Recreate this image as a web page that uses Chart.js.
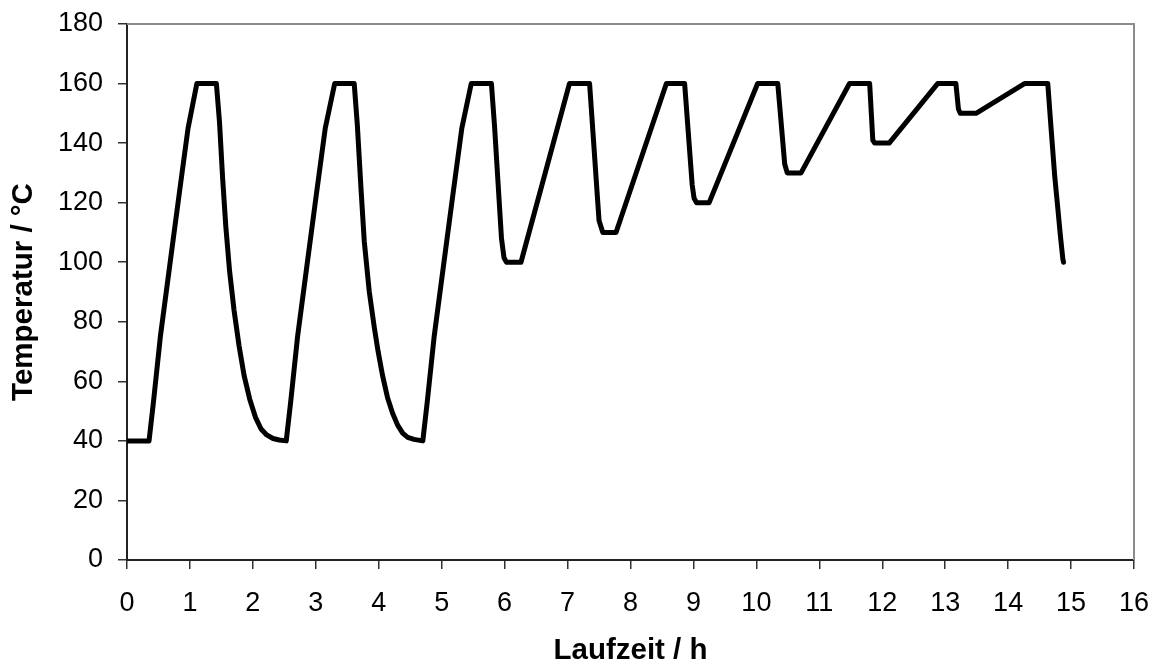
<!DOCTYPE html>
<html>
<head>
<meta charset="utf-8">
<script src="https://cdn.jsdelivr.net/npm/chart.js@4/dist/chart.umd.min.js"></script>
<style>
  html, body { margin: 0; padding: 0; background: #fff; }
  #wrap { width: 1162px; height: 666px; }
</style>
</head>
<body>
<div id="wrap"><canvas id="c" width="1162" height="666"></canvas></div>
<script>
// Oven temperature programme: run time (h) against temperature (°C)
const hours = [
  0, 0.35, 0.42, 0.53, 0.68, 0.83, 0.97, 1.11,
  1.42, 1.47, 1.52, 1.57, 1.63, 1.70, 1.78, 1.86, 1.95, 2.04, 2.13, 2.22, 2.32, 2.42, 2.53,
  2.60, 2.71, 2.86, 3.01, 3.15, 3.30,
  3.61, 3.66, 3.72, 3.77, 3.85, 3.93, 3.99, 4.06, 4.14, 4.22, 4.30, 4.38, 4.46, 4.56, 4.70,
  4.77, 4.88, 5.03, 5.18, 5.32, 5.47,
  5.79, 5.84, 5.95, 5.99, 6.03,
  6.26, 7.03, 7.35, 7.50, 7.56,
  7.77, 8.57, 8.86, 8.98, 9.01, 9.05,
  9.25, 10.02, 10.34, 10.45, 10.49,
  10.71, 11.48, 11.80, 11.85, 11.88,
  12.11, 12.88, 13.17, 13.21, 13.24,
  13.49, 14.26, 14.63, 14.68, 14.74, 14.79, 14.83, 14.87, 14.88
];
const temperature = [
  40, 40, 53, 75, 99, 123, 145, 160,
  160, 147, 128, 112, 97, 84, 72, 62, 54, 48, 44, 42, 40.8, 40.3, 40,
  53, 75, 99, 123, 145, 160,
  160, 146, 124, 107, 90, 78, 70, 62, 54.5, 49.3, 45.3, 42.6, 41.2, 40.5, 40,
  53, 75, 99, 123, 145, 160,
  160, 145.6, 108, 101.5, 100,
  100, 160, 160, 114, 110,
  110, 160, 160, 126, 121.5, 120,
  120, 160, 160, 133, 130,
  130, 160, 160, 141, 140,
  140, 160, 160, 151.5, 150,
  150, 160, 160, 145.6, 129, 118, 109, 101, 100
];

// Axis tick values
const xTickValues = [0, 1, 2, 3, 4, 5, 6, 7, 8, 9, 10, 11, 12, 13, 14, 15, 16];
const yTickValues = [0, 20, 40, 60, 80, 100, 120, 140, 160, 180];

const xTitle = 'Laufzeit / h';
const yTitle = 'Temperatur / °C';

const FONT = "'Liberation Sans', Arial, sans-serif";

// Grey frame on the top and right side of the plot area
const frame = {
  id: 'frame',
  beforeDatasetsDraw(chart) {
    const { ctx, chartArea: a } = chart;
    ctx.save();
    ctx.strokeStyle = '#8c8c8c';
    ctx.lineWidth = 2;
    ctx.beginPath();
    ctx.moveTo(a.left, a.top);
    ctx.lineTo(a.right, a.top);
    ctx.lineTo(a.right, a.bottom);
    ctx.stroke();
    ctx.restore();
  }
};

const titleFont = { family: FONT, size: 29.5, weight: 'bold', lineHeight: 1 };
const tickFont = { family: FONT, size: 27 };

new Chart(document.getElementById('c'), {
  type: 'scatter',
  data: {
    datasets: [{
      data: hours.map((h, i) => ({ x: h, y: temperature[i] })),
      showLine: true,
      borderColor: '#000',
      backgroundColor: '#000',
      borderWidth: 5,
      borderJoinStyle: 'round',
      borderCapStyle: 'round',
      pointRadius: 0,
      pointHoverRadius: 0,
      tension: 0,
      fill: false
    }]
  },
  options: {
    responsive: false,
    animation: false,
    devicePixelRatio: 1,
    layout: { padding: { top: 24, right: 28, left: 0, bottom: 0 } },
    plugins: {
      legend: { display: false },
      tooltip: { enabled: false },
      title: { display: false }
    },
    scales: {
      x: {
        type: 'linear',
        min: 0,
        max: 16,
        afterBuildTicks: s => { s.ticks = xTickValues.map(v => ({ value: v })); },
        afterFit: s => { s.height = 106; s.paddingLeft = 0; s.paddingRight = 0; },
        ticks: { color: '#000', padding: 18, font: tickFont },
        grid: { display: true, drawOnChartArea: false, drawTicks: true, tickLength: 9, color: '#333', lineWidth: 1.5 },
        border: { display: true, color: '#222', width: 2 },
        title: { display: true, text: xTitle, color: '#000', font: titleFont, padding: { top: 0, bottom: 0 } }
      },
      y: {
        type: 'linear',
        min: 0,
        max: 180,
        afterBuildTicks: s => { s.ticks = yTickValues.map(v => ({ value: v })); },
        afterFit: s => { s.width = 127; s.paddingTop = 0; s.paddingBottom = 0; },
        ticks: { color: '#000', padding: 15, font: tickFont },
        grid: { display: true, drawOnChartArea: false, drawTicks: true, tickLength: 9, color: '#333', lineWidth: 1.5 },
        border: { display: true, color: '#222', width: 2 },
        title: { display: true, text: yTitle, color: '#000', font: titleFont, padding: { top: 9.5, bottom: 0 } }
      }
    }
  },
  plugins: [frame]
});
</script>
</body>
</html>
